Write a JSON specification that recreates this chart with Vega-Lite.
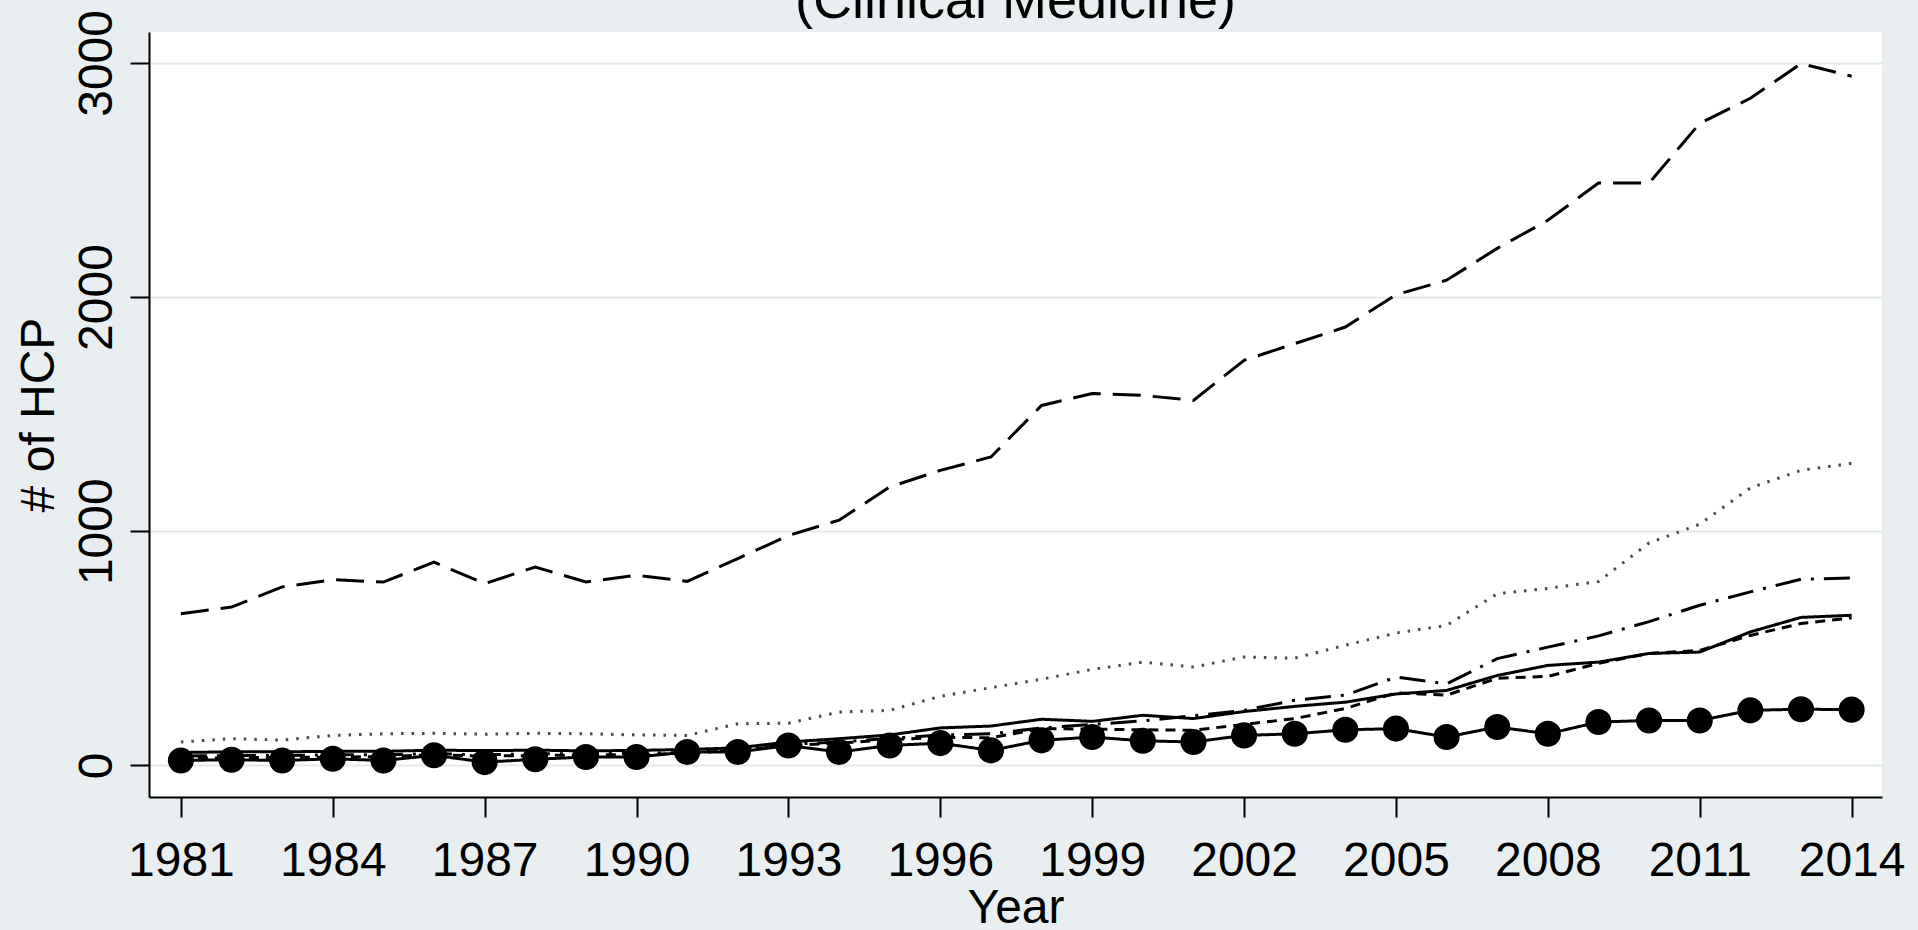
{
  "$schema": "https://vega.github.io/schema/vega-lite/v6.json",
  "width": 1733,
  "height": 765,
  "autosize": {"type": "none"},
  "padding": {"left": 149, "top": 32, "right": 36, "bottom": 133},
  "background": "#e9eff1",
  "title": {
    "text": "(Clinical Medicine)",
    "font": "Liberation Sans",
    "fontSize": 54,
    "fontWeight": "normal",
    "color": "#000000",
    "anchor": "middle",
    "frame": "group",
    "baseline": "alphabetic",
    "offset": -62
  },
  "config": {
    "view": {"fill": "white", "stroke": null},
    "axis": {
      "labelFont": "Liberation Sans",
      "titleFont": "Liberation Sans",
      "labelFontSize": 48,
      "titleFontSize": 48,
      "titleFontWeight": "normal",
      "labelColor": "#000000",
      "titleColor": "#000000",
      "domainColor": "#000000",
      "domainWidth": 2,
      "tickColor": "#000000",
      "tickWidth": 2,
      "labelFlush": false,
      "labelOverlap": false
    }
  },
  "data": {
    "values": [
      {"year":1981,"series":"A","hcp":648},{"year":1982,"series":"A","hcp":676},{"year":1983,"series":"A","hcp":762},{"year":1984,"series":"A","hcp":793},{"year":1985,"series":"A","hcp":783},{"year":1986,"series":"A","hcp":868},{"year":1987,"series":"A","hcp":776},{"year":1988,"series":"A","hcp":847},{"year":1989,"series":"A","hcp":783},{"year":1990,"series":"A","hcp":812},{"year":1991,"series":"A","hcp":786},{"year":1992,"series":"A","hcp":883},{"year":1993,"series":"A","hcp":982},{"year":1994,"series":"A","hcp":1047},{"year":1995,"series":"A","hcp":1189},{"year":1996,"series":"A","hcp":1260},{"year":1997,"series":"A","hcp":1317},{"year":1998,"series":"A","hcp":1537},{"year":1999,"series":"A","hcp":1588},{"year":2000,"series":"A","hcp":1580},{"year":2001,"series":"A","hcp":1559},{"year":2002,"series":"A","hcp":1730},{"year":2003,"series":"A","hcp":1801},{"year":2004,"series":"A","hcp":1872},{"year":2005,"series":"A","hcp":2010},{"year":2006,"series":"A","hcp":2072},{"year":2007,"series":"A","hcp":2208},{"year":2008,"series":"A","hcp":2328},{"year":2009,"series":"A","hcp":2487},{"year":2010,"series":"A","hcp":2487},{"year":2011,"series":"A","hcp":2742},{"year":2012,"series":"A","hcp":2849},{"year":2013,"series":"A","hcp":2997},{"year":2014,"series":"A","hcp":2943},
      {"year":1981,"series":"B","hcp":100},{"year":1982,"series":"B","hcp":114},{"year":1983,"series":"B","hcp":108},{"year":1984,"series":"B","hcp":128},{"year":1985,"series":"B","hcp":135},{"year":1986,"series":"B","hcp":137},{"year":1987,"series":"B","hcp":133},{"year":1988,"series":"B","hcp":137},{"year":1989,"series":"B","hcp":135},{"year":1990,"series":"B","hcp":130},{"year":1991,"series":"B","hcp":128},{"year":1992,"series":"B","hcp":178},{"year":1993,"series":"B","hcp":180},{"year":1994,"series":"B","hcp":228},{"year":1995,"series":"B","hcp":235},{"year":1996,"series":"B","hcp":295},{"year":1997,"series":"B","hcp":332},{"year":1998,"series":"B","hcp":368},{"year":1999,"series":"B","hcp":410},{"year":2000,"series":"B","hcp":441},{"year":2001,"series":"B","hcp":420},{"year":2002,"series":"B","hcp":463},{"year":2003,"series":"B","hcp":458},{"year":2004,"series":"B","hcp":513},{"year":2005,"series":"B","hcp":565},{"year":2006,"series":"B","hcp":598},{"year":2007,"series":"B","hcp":733},{"year":2008,"series":"B","hcp":756},{"year":2009,"series":"B","hcp":785},{"year":2010,"series":"B","hcp":950},{"year":2011,"series":"B","hcp":1030},{"year":2012,"series":"B","hcp":1185},{"year":2013,"series":"B","hcp":1260},{"year":2014,"series":"B","hcp":1290},
      {"year":1981,"series":"C","hcp":40},{"year":1982,"series":"C","hcp":42},{"year":1983,"series":"C","hcp":42},{"year":1984,"series":"C","hcp":45},{"year":1985,"series":"C","hcp":45},{"year":1986,"series":"C","hcp":50},{"year":1987,"series":"C","hcp":45},{"year":1988,"series":"C","hcp":50},{"year":1989,"series":"C","hcp":50},{"year":1990,"series":"C","hcp":52},{"year":1991,"series":"C","hcp":55},{"year":1992,"series":"C","hcp":65},{"year":1993,"series":"C","hcp":90},{"year":1994,"series":"C","hcp":100},{"year":1995,"series":"C","hcp":115},{"year":1996,"series":"C","hcp":130},{"year":1997,"series":"C","hcp":135},{"year":1998,"series":"C","hcp":160},{"year":1999,"series":"C","hcp":175},{"year":2000,"series":"C","hcp":190},{"year":2001,"series":"C","hcp":212},{"year":2002,"series":"C","hcp":235},{"year":2003,"series":"C","hcp":278},{"year":2004,"series":"C","hcp":300},{"year":2005,"series":"C","hcp":377},{"year":2006,"series":"C","hcp":348},{"year":2007,"series":"C","hcp":456},{"year":2008,"series":"C","hcp":505},{"year":2009,"series":"C","hcp":553},{"year":2010,"series":"C","hcp":614},{"year":2011,"series":"C","hcp":684},{"year":2012,"series":"C","hcp":741},{"year":2013,"series":"C","hcp":795},{"year":2014,"series":"C","hcp":800},
      {"year":1981,"series":"D","hcp":55},{"year":1982,"series":"D","hcp":58},{"year":1983,"series":"D","hcp":58},{"year":1984,"series":"D","hcp":60},{"year":1985,"series":"D","hcp":60},{"year":1986,"series":"D","hcp":65},{"year":1987,"series":"D","hcp":63},{"year":1988,"series":"D","hcp":65},{"year":1989,"series":"D","hcp":62},{"year":1990,"series":"D","hcp":64},{"year":1991,"series":"D","hcp":68},{"year":1992,"series":"D","hcp":75},{"year":1993,"series":"D","hcp":100},{"year":1994,"series":"D","hcp":114},{"year":1995,"series":"D","hcp":130},{"year":1996,"series":"D","hcp":160},{"year":1997,"series":"D","hcp":168},{"year":1998,"series":"D","hcp":197},{"year":1999,"series":"D","hcp":188},{"year":2000,"series":"D","hcp":214},{"year":2001,"series":"D","hcp":200},{"year":2002,"series":"D","hcp":230},{"year":2003,"series":"D","hcp":252},{"year":2004,"series":"D","hcp":270},{"year":2005,"series":"D","hcp":305},{"year":2006,"series":"D","hcp":320},{"year":2007,"series":"D","hcp":384},{"year":2008,"series":"D","hcp":427},{"year":2009,"series":"D","hcp":441},{"year":2010,"series":"D","hcp":478},{"year":2011,"series":"D","hcp":484},{"year":2012,"series":"D","hcp":570},{"year":2013,"series":"D","hcp":632},{"year":2014,"series":"D","hcp":641},
      {"year":1981,"series":"E","hcp":30},{"year":1982,"series":"E","hcp":32},{"year":1983,"series":"E","hcp":35},{"year":1984,"series":"E","hcp":35},{"year":1985,"series":"E","hcp":38},{"year":1986,"series":"E","hcp":45},{"year":1987,"series":"E","hcp":40},{"year":1988,"series":"E","hcp":42},{"year":1989,"series":"E","hcp":45},{"year":1990,"series":"E","hcp":45},{"year":1991,"series":"E","hcp":52},{"year":1992,"series":"E","hcp":65},{"year":1993,"series":"E","hcp":85},{"year":1994,"series":"E","hcp":95},{"year":1995,"series":"E","hcp":110},{"year":1996,"series":"E","hcp":120},{"year":1997,"series":"E","hcp":118},{"year":1998,"series":"E","hcp":157},{"year":1999,"series":"E","hcp":155},{"year":2000,"series":"E","hcp":152},{"year":2001,"series":"E","hcp":150},{"year":2002,"series":"E","hcp":175},{"year":2003,"series":"E","hcp":200},{"year":2004,"series":"E","hcp":243},{"year":2005,"series":"E","hcp":310},{"year":2006,"series":"E","hcp":300},{"year":2007,"series":"E","hcp":372},{"year":2008,"series":"E","hcp":380},{"year":2009,"series":"E","hcp":436},{"year":2010,"series":"E","hcp":478},{"year":2011,"series":"E","hcp":491},{"year":2012,"series":"E","hcp":555},{"year":2013,"series":"E","hcp":606},{"year":2014,"series":"E","hcp":630},
      {"year":1981,"series":"F","hcp":21},{"year":1982,"series":"F","hcp":24},{"year":1983,"series":"F","hcp":21},{"year":1984,"series":"F","hcp":28},{"year":1985,"series":"F","hcp":21},{"year":1986,"series":"F","hcp":43},{"year":1987,"series":"F","hcp":14},{"year":1988,"series":"F","hcp":26},{"year":1989,"series":"F","hcp":36},{"year":1990,"series":"F","hcp":36},{"year":1991,"series":"F","hcp":57},{"year":1992,"series":"F","hcp":57},{"year":1993,"series":"F","hcp":85},{"year":1994,"series":"F","hcp":57},{"year":1995,"series":"F","hcp":85},{"year":1996,"series":"F","hcp":95},{"year":1997,"series":"F","hcp":64},{"year":1998,"series":"F","hcp":107},{"year":1999,"series":"F","hcp":121},{"year":2000,"series":"F","hcp":105},{"year":2001,"series":"F","hcp":100},{"year":2002,"series":"F","hcp":128},{"year":2003,"series":"F","hcp":135},{"year":2004,"series":"F","hcp":152},{"year":2005,"series":"F","hcp":157},{"year":2006,"series":"F","hcp":121},{"year":2007,"series":"F","hcp":164},{"year":2008,"series":"F","hcp":135},{"year":2009,"series":"F","hcp":185},{"year":2010,"series":"F","hcp":192},{"year":2011,"series":"F","hcp":192},{"year":2012,"series":"F","hcp":235},{"year":2013,"series":"F","hcp":240},{"year":2014,"series":"F","hcp":238}
    ]
  },
  "encoding": {
    "x": {
      "field": "year",
      "type": "quantitative",
      "scale": {"domain": [1980.37, 2014.6], "nice": false, "zero": false},
      "axis": {
        "values": [1981,1984,1987,1990,1993,1996,1999,2002,2005,2008,2011,2014],
        "format": "d",
        "grid": false,
        "tickSize": 20,
        "labelPadding": 58,
        "labelBaseline": "alphabetic",
        "labelAlign": "center",
        "title": "Year",
        "titleY": 125,
        "titleBaseline": "alphabetic"
      }
    },
    "y": {
      "field": "hcp",
      "type": "quantitative",
      "scale": {"domain": [-135, 3132], "nice": false, "zero": false},
      "axis": {
        "values": [0, 1000, 2000, 3000],
        "format": "d",
        "grid": true,
        "gridColor": "#e3e9eb",
        "gridWidth": 2,
        "tickSize": 19,
        "labelPadding": 19,
        "labelAngle": -90,
        "labelAlign": "center",
        "labelBaseline": "alphabetic",
        "title": "# of HCP",
        "titleAngle": -90,
        "titleX": -96,
        "titleBaseline": "alphabetic"
      }
    }
  },
  "layer": [
    {
      "mark": {"type": "line", "strokeWidth": 3},
      "encoding": {
        "detail": {"field": "series"},
        "color": {
          "field": "series",
          "type": "nominal",
          "scale": {"domain": ["A","B","C","D","E","F"], "range": ["#000000","#4a4a4a","#000000","#000000","#000000","#000000"]},
          "legend": null
        },
        "strokeDash": {
          "field": "series",
          "type": "nominal",
          "scale": {"domain": ["A","B","C","D","E","F"], "range": [[28,12],[2.5,8],[26,10,3,10],[1,0],[10,7],[1,0]]},
          "legend": null
        },
        "strokeWidth": {
          "field": "series",
          "type": "nominal",
          "scale": {"domain": ["A","B","C","D","E","F"], "range": [4,2.5,3.8,3.5,3.5,3.5]},
          "legend": null
        }
      }
    },
    {
      "transform": [{"filter": "datum.series === 'F'"}],
      "mark": {"type": "point", "filled": true, "size": 680, "opacity": 1, "color": "#000000"}
    }
  ]
}
